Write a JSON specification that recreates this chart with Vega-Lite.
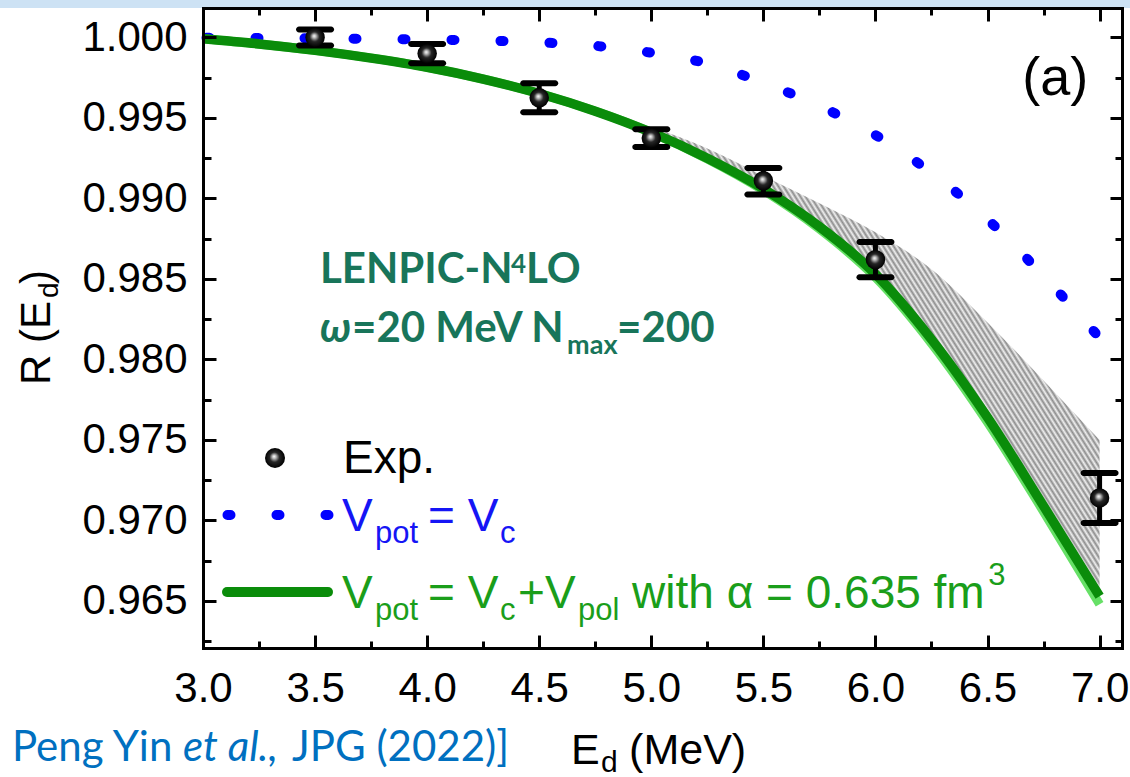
{
"$schema": "https://vega.github.io/schema/vega-lite/v6.json",
"width": 919, "height": 640,
"autosize": "none",
"padding": {"left": 203, "top": 8, "right": 8, "bottom": 129},
"background": "#ffffff",
"config": {"view": {"stroke": null}},
"datasets": {
"exp": [{"x":3.5,"y":1.0,"lo":0.9995,"hi":1.0005},{"x":4.0,"y":0.999,"lo":0.9984,"hi":0.9996},{"x":4.5,"y":0.99625,"lo":0.99535,"hi":0.99715},{"x":5.0,"y":0.99375,"lo":0.9932,"hi":0.9943},{"x":5.5,"y":0.9911,"lo":0.99025,"hi":0.9919},{"x":6.0,"y":0.9862,"lo":0.9851,"hi":0.9873},{"x":7.0,"y":0.9714,"lo":0.96985,"hi":0.97295}],
"vc": [{"x":3.0,"y":0.99998},{"x":3.25,"y":0.99996},{"x":3.5,"y":0.99994},{"x":3.75,"y":0.99991},{"x":4.0,"y":0.99987},{"x":4.25,"y":0.99981},{"x":4.5,"y":0.9997},{"x":4.75,"y":0.99948},{"x":5.0,"y":0.99905},{"x":5.25,"y":0.99838},{"x":5.5,"y":0.99718},{"x":5.75,"y":0.99575},{"x":6.0,"y":0.99394},{"x":6.25,"y":0.99159},{"x":6.5,"y":0.9887},{"x":6.75,"y":0.98518},{"x":7.0,"y":0.98135}],
"pol": [{"x":3.0,"y":0.99992},{"x":3.25,"y":0.9996},{"x":3.5,"y":0.9992},{"x":3.75,"y":0.99872},{"x":4.0,"y":0.99815},{"x":4.25,"y":0.99742},{"x":4.5,"y":0.99652},{"x":4.75,"y":0.99542},{"x":5.0,"y":0.9941},{"x":5.25,"y":0.9925},{"x":5.5,"y":0.9906},{"x":5.75,"y":0.98825},{"x":6.0,"y":0.9853},{"x":6.25,"y":0.98125},{"x":6.5,"y":0.9764},{"x":6.75,"y":0.9709},{"x":7.0,"y":0.9653}],
"polEdge": [{"x":3.0,"y":0.99992},{"x":3.5,"y":0.9992},{"x":4.0,"y":0.99815},{"x":4.5,"y":0.99652},{"x":5.0,"y":0.9941},{"x":5.25,"y":0.99245},{"x":5.5,"y":0.9905},{"x":5.75,"y":0.9881},{"x":6.0,"y":0.9851},{"x":6.25,"y":0.981},{"x":6.5,"y":0.9761},{"x":6.75,"y":0.97055},{"x":7.0,"y":0.9648}],
"band": [{"x":5.0,"y":0.99445,"y2":0.9941},{"x":5.25,"y":0.9931,"y2":0.99245},{"x":5.5,"y":0.9914,"y2":0.9905},{"x":5.75,"y":0.9897,"y2":0.9881},{"x":6.0,"y":0.9879,"y2":0.9851},{"x":6.25,"y":0.9856,"y2":0.981},{"x":6.5,"y":0.9823,"y2":0.9761},{"x":6.75,"y":0.9787,"y2":0.97055},{"x":7.0,"y":0.975,"y2":0.9648}]
},
"encoding": {
"x": {"field": "x", "type": "quantitative", "scale": {"domain": [3, 7.1], "nice": false, "zero": false}, "axis": null},
"y": {"field": "y", "type": "quantitative", "scale": {"domain": [0.96208, 1.00183], "nice": false, "zero": false}, "axis": null}
},
"resolve": {"axis": {"x": "independent", "y": "independent"}},
"layer": [
{"data": {"values": [{"x": 2.05, "x2": 7.2, "y": 1.00183, "y2": 1.0026}]}, "mark": {"type": "rect", "color": "#cde2f4"}, "encoding": {"x2": {"field": "x2"}, "y2": {"field": "y2"}}},
{"data": {"name": "band"}, "mark": {"type": "area", "interpolate": "monotone", "fill": {"gradient": "linear", "x1": 0, "y1": 0.8, "x2": 1, "y2": 0.133, "stops": [
{"offset":0,"color":"#f0f0f0"},{"offset":0.004,"color":"#8c8c8c"},{"offset":0.008,"color":"#f0f0f0"},{"offset":0.012,"color":"#8c8c8c"},{"offset":0.016,"color":"#f0f0f0"},{"offset":0.02,"color":"#8c8c8c"},{"offset":0.024,"color":"#f0f0f0"},{"offset":0.028,"color":"#8c8c8c"},{"offset":0.032,"color":"#f0f0f0"},{"offset":0.036,"color":"#8c8c8c"},
{"offset":0.04,"color":"#f0f0f0"},{"offset":0.044,"color":"#8c8c8c"},{"offset":0.048,"color":"#f0f0f0"},{"offset":0.052,"color":"#8c8c8c"},{"offset":0.056,"color":"#f0f0f0"},{"offset":0.06,"color":"#8c8c8c"},{"offset":0.064,"color":"#f0f0f0"},{"offset":0.068,"color":"#8c8c8c"},{"offset":0.072,"color":"#f0f0f0"},{"offset":0.076,"color":"#8c8c8c"},
{"offset":0.08,"color":"#f0f0f0"},{"offset":0.084,"color":"#8c8c8c"},{"offset":0.088,"color":"#f0f0f0"},{"offset":0.092,"color":"#8c8c8c"},{"offset":0.096,"color":"#f0f0f0"},{"offset":0.1,"color":"#8c8c8c"},{"offset":0.104,"color":"#f0f0f0"},{"offset":0.108,"color":"#8c8c8c"},{"offset":0.112,"color":"#f0f0f0"},{"offset":0.116,"color":"#8c8c8c"},
{"offset":0.12,"color":"#f0f0f0"},{"offset":0.124,"color":"#8c8c8c"},{"offset":0.128,"color":"#f0f0f0"},{"offset":0.132,"color":"#8c8c8c"},{"offset":0.136,"color":"#f0f0f0"},{"offset":0.14,"color":"#8c8c8c"},{"offset":0.144,"color":"#f0f0f0"},{"offset":0.148,"color":"#8c8c8c"},{"offset":0.152,"color":"#f0f0f0"},{"offset":0.156,"color":"#8c8c8c"},
{"offset":0.16,"color":"#f0f0f0"},{"offset":0.164,"color":"#8c8c8c"},{"offset":0.168,"color":"#f0f0f0"},{"offset":0.172,"color":"#8c8c8c"},{"offset":0.176,"color":"#f0f0f0"},{"offset":0.18,"color":"#8c8c8c"},{"offset":0.184,"color":"#f0f0f0"},{"offset":0.188,"color":"#8c8c8c"},{"offset":0.192,"color":"#f0f0f0"},{"offset":0.196,"color":"#8c8c8c"},
{"offset":0.2,"color":"#f0f0f0"},{"offset":0.204,"color":"#8c8c8c"},{"offset":0.208,"color":"#f0f0f0"},{"offset":0.212,"color":"#8c8c8c"},{"offset":0.216,"color":"#f0f0f0"},{"offset":0.22,"color":"#8c8c8c"},{"offset":0.224,"color":"#f0f0f0"},{"offset":0.228,"color":"#8c8c8c"},{"offset":0.232,"color":"#f0f0f0"},{"offset":0.236,"color":"#8c8c8c"},
{"offset":0.24,"color":"#f0f0f0"},{"offset":0.244,"color":"#8c8c8c"},{"offset":0.248,"color":"#f0f0f0"},{"offset":0.252,"color":"#8c8c8c"},{"offset":0.256,"color":"#f0f0f0"},{"offset":0.26,"color":"#8c8c8c"},{"offset":0.264,"color":"#f0f0f0"},{"offset":0.268,"color":"#8c8c8c"},{"offset":0.272,"color":"#f0f0f0"},{"offset":0.276,"color":"#8c8c8c"},
{"offset":0.28,"color":"#f0f0f0"},{"offset":0.284,"color":"#8c8c8c"},{"offset":0.288,"color":"#f0f0f0"},{"offset":0.292,"color":"#8c8c8c"},{"offset":0.296,"color":"#f0f0f0"},{"offset":0.3,"color":"#8c8c8c"},{"offset":0.304,"color":"#f0f0f0"},{"offset":0.308,"color":"#8c8c8c"},{"offset":0.312,"color":"#f0f0f0"},{"offset":0.316,"color":"#8c8c8c"},
{"offset":0.32,"color":"#f0f0f0"},{"offset":0.324,"color":"#8c8c8c"},{"offset":0.328,"color":"#f0f0f0"},{"offset":0.332,"color":"#8c8c8c"},{"offset":0.336,"color":"#f0f0f0"},{"offset":0.34,"color":"#8c8c8c"},{"offset":0.344,"color":"#f0f0f0"},{"offset":0.348,"color":"#8c8c8c"},{"offset":0.352,"color":"#f0f0f0"},{"offset":0.356,"color":"#8c8c8c"},
{"offset":0.36,"color":"#f0f0f0"},{"offset":0.364,"color":"#8c8c8c"},{"offset":0.368,"color":"#f0f0f0"},{"offset":0.372,"color":"#8c8c8c"},{"offset":0.376,"color":"#f0f0f0"},{"offset":0.38,"color":"#8c8c8c"},{"offset":0.384,"color":"#f0f0f0"},{"offset":0.388,"color":"#8c8c8c"},{"offset":0.392,"color":"#f0f0f0"},{"offset":0.396,"color":"#8c8c8c"},
{"offset":0.4,"color":"#f0f0f0"},{"offset":0.404,"color":"#8c8c8c"},{"offset":0.408,"color":"#f0f0f0"},{"offset":0.412,"color":"#8c8c8c"},{"offset":0.416,"color":"#f0f0f0"},{"offset":0.42,"color":"#8c8c8c"},{"offset":0.424,"color":"#f0f0f0"},{"offset":0.428,"color":"#8c8c8c"},{"offset":0.432,"color":"#f0f0f0"},{"offset":0.436,"color":"#8c8c8c"},
{"offset":0.44,"color":"#f0f0f0"},{"offset":0.444,"color":"#8c8c8c"},{"offset":0.448,"color":"#f0f0f0"},{"offset":0.452,"color":"#8c8c8c"},{"offset":0.456,"color":"#f0f0f0"},{"offset":0.46,"color":"#8c8c8c"},{"offset":0.464,"color":"#f0f0f0"},{"offset":0.468,"color":"#8c8c8c"},{"offset":0.472,"color":"#f0f0f0"},{"offset":0.476,"color":"#8c8c8c"},
{"offset":0.48,"color":"#f0f0f0"},{"offset":0.484,"color":"#8c8c8c"},{"offset":0.488,"color":"#f0f0f0"},{"offset":0.492,"color":"#8c8c8c"},{"offset":0.496,"color":"#f0f0f0"},{"offset":0.5,"color":"#8c8c8c"},{"offset":0.504,"color":"#f0f0f0"},{"offset":0.508,"color":"#8c8c8c"},{"offset":0.512,"color":"#f0f0f0"},{"offset":0.516,"color":"#8c8c8c"},
{"offset":0.52,"color":"#f0f0f0"},{"offset":0.524,"color":"#8c8c8c"},{"offset":0.528,"color":"#f0f0f0"},{"offset":0.532,"color":"#8c8c8c"},{"offset":0.536,"color":"#f0f0f0"},{"offset":0.54,"color":"#8c8c8c"},{"offset":0.544,"color":"#f0f0f0"},{"offset":0.548,"color":"#8c8c8c"},{"offset":0.552,"color":"#f0f0f0"},{"offset":0.556,"color":"#8c8c8c"},
{"offset":0.56,"color":"#f0f0f0"},{"offset":0.564,"color":"#8c8c8c"},{"offset":0.568,"color":"#f0f0f0"},{"offset":0.572,"color":"#8c8c8c"},{"offset":0.576,"color":"#f0f0f0"},{"offset":0.58,"color":"#8c8c8c"},{"offset":0.584,"color":"#f0f0f0"},{"offset":0.588,"color":"#8c8c8c"},{"offset":0.592,"color":"#f0f0f0"},{"offset":0.596,"color":"#8c8c8c"},
{"offset":0.6,"color":"#f0f0f0"},{"offset":0.604,"color":"#8c8c8c"},{"offset":0.608,"color":"#f0f0f0"},{"offset":0.612,"color":"#8c8c8c"},{"offset":0.616,"color":"#f0f0f0"},{"offset":0.62,"color":"#8c8c8c"},{"offset":0.624,"color":"#f0f0f0"},{"offset":0.628,"color":"#8c8c8c"},{"offset":0.632,"color":"#f0f0f0"},{"offset":0.636,"color":"#8c8c8c"},
{"offset":0.64,"color":"#f0f0f0"},{"offset":0.644,"color":"#8c8c8c"},{"offset":0.648,"color":"#f0f0f0"},{"offset":0.652,"color":"#8c8c8c"},{"offset":0.656,"color":"#f0f0f0"},{"offset":0.66,"color":"#8c8c8c"},{"offset":0.664,"color":"#f0f0f0"},{"offset":0.668,"color":"#8c8c8c"},{"offset":0.672,"color":"#f0f0f0"},{"offset":0.676,"color":"#8c8c8c"},
{"offset":0.68,"color":"#f0f0f0"},{"offset":0.684,"color":"#8c8c8c"},{"offset":0.688,"color":"#f0f0f0"},{"offset":0.692,"color":"#8c8c8c"},{"offset":0.696,"color":"#f0f0f0"},{"offset":0.7,"color":"#8c8c8c"},{"offset":0.704,"color":"#f0f0f0"},{"offset":0.708,"color":"#8c8c8c"},{"offset":0.712,"color":"#f0f0f0"},{"offset":0.716,"color":"#8c8c8c"},
{"offset":0.72,"color":"#f0f0f0"},{"offset":0.724,"color":"#8c8c8c"},{"offset":0.728,"color":"#f0f0f0"},{"offset":0.732,"color":"#8c8c8c"},{"offset":0.736,"color":"#f0f0f0"},{"offset":0.74,"color":"#8c8c8c"},{"offset":0.744,"color":"#f0f0f0"},{"offset":0.748,"color":"#8c8c8c"},{"offset":0.752,"color":"#f0f0f0"},{"offset":0.756,"color":"#8c8c8c"},
{"offset":0.76,"color":"#f0f0f0"},{"offset":0.764,"color":"#8c8c8c"},{"offset":0.768,"color":"#f0f0f0"},{"offset":0.772,"color":"#8c8c8c"},{"offset":0.776,"color":"#f0f0f0"},{"offset":0.78,"color":"#8c8c8c"},{"offset":0.784,"color":"#f0f0f0"},{"offset":0.788,"color":"#8c8c8c"},{"offset":0.792,"color":"#f0f0f0"},{"offset":0.796,"color":"#8c8c8c"},
{"offset":0.8,"color":"#f0f0f0"},{"offset":0.804,"color":"#8c8c8c"},{"offset":0.808,"color":"#f0f0f0"},{"offset":0.812,"color":"#8c8c8c"},{"offset":0.816,"color":"#f0f0f0"},{"offset":0.82,"color":"#8c8c8c"},{"offset":0.824,"color":"#f0f0f0"},{"offset":0.828,"color":"#8c8c8c"},{"offset":0.832,"color":"#f0f0f0"},{"offset":0.836,"color":"#8c8c8c"},
{"offset":0.84,"color":"#f0f0f0"},{"offset":0.844,"color":"#8c8c8c"},{"offset":0.848,"color":"#f0f0f0"},{"offset":0.852,"color":"#8c8c8c"},{"offset":0.856,"color":"#f0f0f0"},{"offset":0.86,"color":"#8c8c8c"},{"offset":0.864,"color":"#f0f0f0"},{"offset":0.868,"color":"#8c8c8c"},{"offset":0.872,"color":"#f0f0f0"},{"offset":0.876,"color":"#8c8c8c"},
{"offset":0.88,"color":"#f0f0f0"},{"offset":0.884,"color":"#8c8c8c"},{"offset":0.888,"color":"#f0f0f0"},{"offset":0.892,"color":"#8c8c8c"},{"offset":0.896,"color":"#f0f0f0"},{"offset":0.9,"color":"#8c8c8c"},{"offset":0.904,"color":"#f0f0f0"},{"offset":0.908,"color":"#8c8c8c"},{"offset":0.912,"color":"#f0f0f0"},{"offset":0.916,"color":"#8c8c8c"},
{"offset":0.92,"color":"#f0f0f0"},{"offset":0.924,"color":"#8c8c8c"},{"offset":0.928,"color":"#f0f0f0"},{"offset":0.932,"color":"#8c8c8c"},{"offset":0.936,"color":"#f0f0f0"},{"offset":0.94,"color":"#8c8c8c"},{"offset":0.944,"color":"#f0f0f0"},{"offset":0.948,"color":"#8c8c8c"},{"offset":0.952,"color":"#f0f0f0"},{"offset":0.956,"color":"#8c8c8c"},
{"offset":0.96,"color":"#f0f0f0"},{"offset":0.964,"color":"#8c8c8c"},{"offset":0.968,"color":"#f0f0f0"},{"offset":0.972,"color":"#8c8c8c"},{"offset":0.976,"color":"#f0f0f0"},{"offset":0.98,"color":"#8c8c8c"},{"offset":0.984,"color":"#f0f0f0"},{"offset":0.988,"color":"#8c8c8c"},{"offset":0.992,"color":"#f0f0f0"},{"offset":0.996,"color":"#8c8c8c"},
{"offset":1,"color":"#f0f0f0"}
]}}, "encoding": {"y2": {"field": "y2"}}},
{"data": {"name": "vc"}, "mark": {"type": "line", "interpolate": "monotone", "color": "#0000ff", "strokeWidth": 10, "strokeDash": [3, 46], "strokeDashOffset": 45.5, "strokeCap": "round"}, "encoding": {}},
{"data": {"name": "polEdge"}, "mark": {"type": "line", "interpolate": "monotone", "color": "#66e066", "strokeWidth": 9, "strokeCap": "butt"},
 "encoding": {
  "x": {"field": "x", "type": "quantitative", "scale": {"domain": [3, 7.1], "nice": false, "zero": false}, "axis": {"orient": "top", "labels": false, "values": [3,3.25,3.5,3.75,4,4.25,4.5,4.75,5,5.25,5.5,5.75,6,6.25,6.5,6.75,7], "tickSize": {"condition": {"test": "round(datum.value*4)%2==1", "value": -7}, "value": -13}, "tickWidth": 3, "tickColor": "#000000", "domainColor": "#000000", "domainWidth": 3, "domainCap": "square", "grid": false, "title": null, "zindex": 1}},
  "y": {"field": "y", "type": "quantitative", "scale": {"domain": [0.96208, 1.00183], "nice": false, "zero": false}, "axis": {"orient": "right", "labels": false, "values": [0.9625,0.965,0.9675,0.97,0.9725,0.975,0.9775,0.98,0.9825,0.985,0.9875,0.99,0.9925,0.995,0.9975,1.0], "tickSize": {"condition": {"test": "round(datum.value*400)%2==1", "value": -7}, "value": -12}, "tickWidth": 3, "tickColor": "#000000", "domainColor": "#000000", "domainWidth": 3, "domainCap": "square", "grid": false, "title": null, "zindex": 1}}
 }},
{"data": {"name": "pol"}, "mark": {"type": "line", "interpolate": "monotone", "color": "#0a8c0a", "strokeWidth": 9.5, "strokeCap": "butt"},
 "encoding": {
  "x": {"field": "x", "type": "quantitative", "scale": {"domain": [3, 7.1], "nice": false, "zero": false}, "axis": {"orient": "bottom", "values": [3,3.25,3.5,3.75,4,4.25,4.5,4.75,5,5.25,5.5,5.75,6,6.25,6.5,6.75,7], "labelExpr": "round(datum.value*4)%2==1 ? '' : format(datum.value, '.1f')", "labelFont": "Liberation Sans", "labelFontSize": 42, "labelColor": "#000000", "labelPadding": 33, "labelOverlap": false, "labelFlush": false, "labelBound": false, "tickSize": {"condition": {"test": "round(datum.value*4)%2==1", "value": -7}, "value": -13}, "tickWidth": 3, "tickColor": "#000000", "domainColor": "#000000", "domainWidth": 3, "domainCap": "square", "grid": false, "title": null, "zindex": 1}},
  "y": {"field": "y", "type": "quantitative", "scale": {"domain": [0.96208, 1.00183], "nice": false, "zero": false}, "axis": {"orient": "left", "values": [0.9625,0.965,0.9675,0.97,0.9725,0.975,0.9775,0.98,0.9825,0.985,0.9875,0.99,0.9925,0.995,0.9975,1.0], "labelExpr": "round(datum.value*400)%2==1 ? '' : format(datum.value, '.3f')", "labelFont": "Liberation Sans", "labelFontSize": 42, "labelColor": "#000000", "labelPadding": 29, "labelOverlap": false, "labelFlush": false, "labelBound": false, "tickSize": {"condition": {"test": "round(datum.value*400)%2==1", "value": -8}, "value": -13}, "tickWidth": 3, "tickColor": "#000000", "domainColor": "#000000", "domainWidth": 3, "domainCap": "square", "grid": false, "title": null, "zindex": 1}}
 }},
{"data": {"name": "exp"}, "mark": {"type": "rule", "color": "#000000", "strokeWidth": 5}, "encoding": {"y": {"field": "lo", "type": "quantitative", "scale": {"domain": [0.96208, 1.00183], "nice": false, "zero": false}, "axis": null}, "y2": {"field": "hi"}}},
{"data": {"name": "exp"}, "mark": {"type": "tick", "orient": "horizontal", "size": 38, "thickness": 6, "cornerRadius": 3, "color": "#000000", "opacity": 1}, "encoding": {"y": {"field": "lo", "type": "quantitative", "scale": {"domain": [0.96208, 1.00183], "nice": false, "zero": false}, "axis": null}}},
{"data": {"name": "exp"}, "mark": {"type": "tick", "orient": "horizontal", "size": 38, "thickness": 6, "cornerRadius": 3, "color": "#000000", "opacity": 1}, "encoding": {"y": {"field": "hi", "type": "quantitative", "scale": {"domain": [0.96208, 1.00183], "nice": false, "zero": false}, "axis": null}}},
{"data": {"name": "exp"}, "mark": {"type": "point", "shape": "circle", "size": 380, "filled": true, "opacity": 1, "strokeWidth": 0, "fill": {"gradient": "radial", "x1": 0.45, "y1": 0.42, "r1": 0, "x2": 0.5, "y2": 0.5, "r2": 0.5, "stops": [{"offset": 0, "color": "#ffffff"}, {"offset": 0.18, "color": "#bdbdbd"}, {"offset": 0.5, "color": "#262626"}, {"offset": 1, "color": "#000000"}]}}, "encoding": {}},
{"data": {"values": [{"x": 3.3213, "y": 0.97388}]}, "mark": {"type": "point", "shape": "circle", "size": 400, "filled": true, "opacity": 1, "strokeWidth": 0, "fill": {"gradient": "radial", "x1": 0.45, "y1": 0.42, "r1": 0, "x2": 0.5, "y2": 0.5, "r2": 0.5, "stops": [{"offset": 0, "color": "#ffffff"}, {"offset": 0.18, "color": "#bdbdbd"}, {"offset": 0.5, "color": "#262626"}, {"offset": 1, "color": "#000000"}]}}, "encoding": {}},
{"data": {"values": [{"x": 3.1093, "y": 0.97034}, {"x": 3.5712, "y": 0.97034}]}, "mark": {"type": "line", "color": "#0000ff", "strokeWidth": 10, "strokeDash": [3, 46], "strokeCap": "round"}, "encoding": {}},
{"data": {"values": [{"x": 3.1071, "y": 0.96556}, {"x": 3.5578, "y": 0.96556}]}, "mark": {"type": "line", "color": "#0a8c0a", "strokeWidth": 10, "strokeCap": "round"}, "encoding": {}},
{"data": {"values": [{"x": 3.6247, "y": 0.97295, "t": "Exp."}]}, "mark": {"type": "text", "font": "Liberation Sans", "fontSize": 46, "color": "#000000", "align": "left", "baseline": "alphabetic"}, "encoding": {"text": {"field": "t"}}},
{"data": {"values": [{"x": 6.6546, "y": 0.99643, "t": "(a)"}]}, "mark": {"type": "text", "font": "Liberation Sans", "fontSize": 54, "color": "#000000", "align": "left", "baseline": "alphabetic"}, "encoding": {"text": {"field": "t"}}},
{"data": {"values": [{"x": 3.6203, "y": 0.96935, "t": "V"}, {"x": 4.004, "y": 0.96935, "t": "= V"}]}, "mark": {"type": "text", "font": "Liberation Sans", "fontSize": 46, "color": "#1515f5", "align": "left", "baseline": "alphabetic"}, "encoding": {"text": {"field": "t"}}},
{"data": {"values": [{"x": 3.7675, "y": 0.9686, "t": "pot"}, {"x": 4.3253, "y": 0.9686, "t": "c"}]}, "mark": {"type": "text", "font": "Liberation Sans", "fontSize": 31, "color": "#1515f5", "align": "left", "baseline": "alphabetic"}, "encoding": {"text": {"field": "t"}}},
{"data": {"values": [{"x": 3.6203, "y": 0.96456, "t": "V"}, {"x": 4.004, "y": 0.96456, "t": "= V"}, {"x": 4.4056, "y": 0.96456, "t": "+V"}, {"x": 4.9143, "y": 0.96456, "t": "with α = 0.635 fm"}]}, "mark": {"type": "text", "font": "Liberation Sans", "fontSize": 46, "color": "#1a9e1a", "align": "left", "baseline": "alphabetic"}, "encoding": {"text": {"field": "t"}}},
{"data": {"values": [{"x": 3.7675, "y": 0.96382, "t": "pot"}, {"x": 4.3253, "y": 0.96382, "t": "c"}, {"x": 4.6734, "y": 0.96382, "t": "pol"}, {"x": 6.5029, "y": 0.96599, "t": "3"}]}, "mark": {"type": "text", "font": "Liberation Sans", "fontSize": 31, "color": "#1a9e1a", "align": "left", "baseline": "alphabetic"}, "encoding": {"text": {"field": "t"}}},
{"data": {"values": [{"x": 3.5221, "y": 0.98475, "t": "LENPIC-N"}, {"x": 4.4413, "y": 0.98475, "t": "LO"}, {"x": 3.6649, "y": 0.98108, "t": "=20 MeV N"}, {"x": 4.8474, "y": 0.98108, "t": "=200"}]}, "mark": {"type": "text", "font": "Lato", "fontWeight": "bold", "fontSize": 42, "color": "#18755a", "align": "left", "baseline": "alphabetic"}, "encoding": {"text": {"field": "t"}}},
{"data": {"values": [{"x": 3.5221, "y": 0.98108, "t": "ω"}]}, "mark": {"type": "text", "font": "Lato", "fontWeight": "bold", "fontStyle": "italic", "fontSize": 42, "color": "#18755a", "align": "left", "baseline": "alphabetic"}, "encoding": {"text": {"field": "t"}}},
{"data": {"values": [{"x": 4.3744, "y": 0.98537, "t": "4"}]}, "mark": {"type": "text", "font": "Lato", "fontWeight": "bold", "fontSize": 26, "color": "#18755a", "align": "left", "baseline": "alphabetic"}, "encoding": {"text": {"field": "t"}}},
{"data": {"values": [{"x": 4.6243, "y": 0.98034, "t": "max"}]}, "mark": {"type": "text", "font": "Lato", "fontWeight": "bold", "fontSize": 27, "color": "#18755a", "align": "left", "baseline": "alphabetic"}, "encoding": {"text": {"field": "t"}}},
{"data": {"values": [{"x": 2.3173, "y": 0.97841, "t": "R (E"}, {"x": 2.3173, "y": 0.98469, "t": ")"}]}, "mark": {"type": "text", "font": "Liberation Sans", "fontSize": 42, "angle": 270, "color": "#000000", "align": "left", "baseline": "alphabetic"}, "encoding": {"text": {"field": "t"}}},
{"data": {"values": [{"x": 2.353, "y": 0.98382, "t": "d"}]}, "mark": {"type": "text", "font": "Liberation Sans", "fontSize": 28, "angle": 270, "color": "#000000", "align": "left", "baseline": "alphabetic"}, "encoding": {"text": {"field": "t"}}},
{"data": {"values": [{"x": 4.6421, "y": 0.95488, "t": "E"}, {"x": 4.901, "y": 0.95488, "t": "(MeV)"}]}, "mark": {"type": "text", "font": "Liberation Sans", "fontSize": 43, "color": "#000000", "align": "left", "baseline": "alphabetic"}, "encoding": {"text": {"field": "t"}}},
{"data": {"values": [{"x": 4.776, "y": 0.95438, "t": "d"}]}, "mark": {"type": "text", "font": "Liberation Sans", "fontSize": 30, "color": "#000000", "align": "left", "baseline": "alphabetic"}, "encoding": {"text": {"field": "t"}}},
{"data": {"values": [{"x": 2.1477, "y": 0.95506, "t": "Peng Yin"}, {"x": 3.3971, "y": 0.95506, "t": "JPG (2022)]"}]}, "mark": {"type": "text", "font": "Lato", "fontSize": 42, "color": "#0070c0", "align": "left", "baseline": "alphabetic"}, "encoding": {"text": {"field": "t"}}},
{"data": {"values": [{"x": 2.9108, "y": 0.95506, "t": "et al.,"}]}, "mark": {"type": "text", "font": "Lato", "fontStyle": "italic", "fontSize": 42, "color": "#0070c0", "align": "left", "baseline": "alphabetic"}, "encoding": {"text": {"field": "t"}}}
]
}
